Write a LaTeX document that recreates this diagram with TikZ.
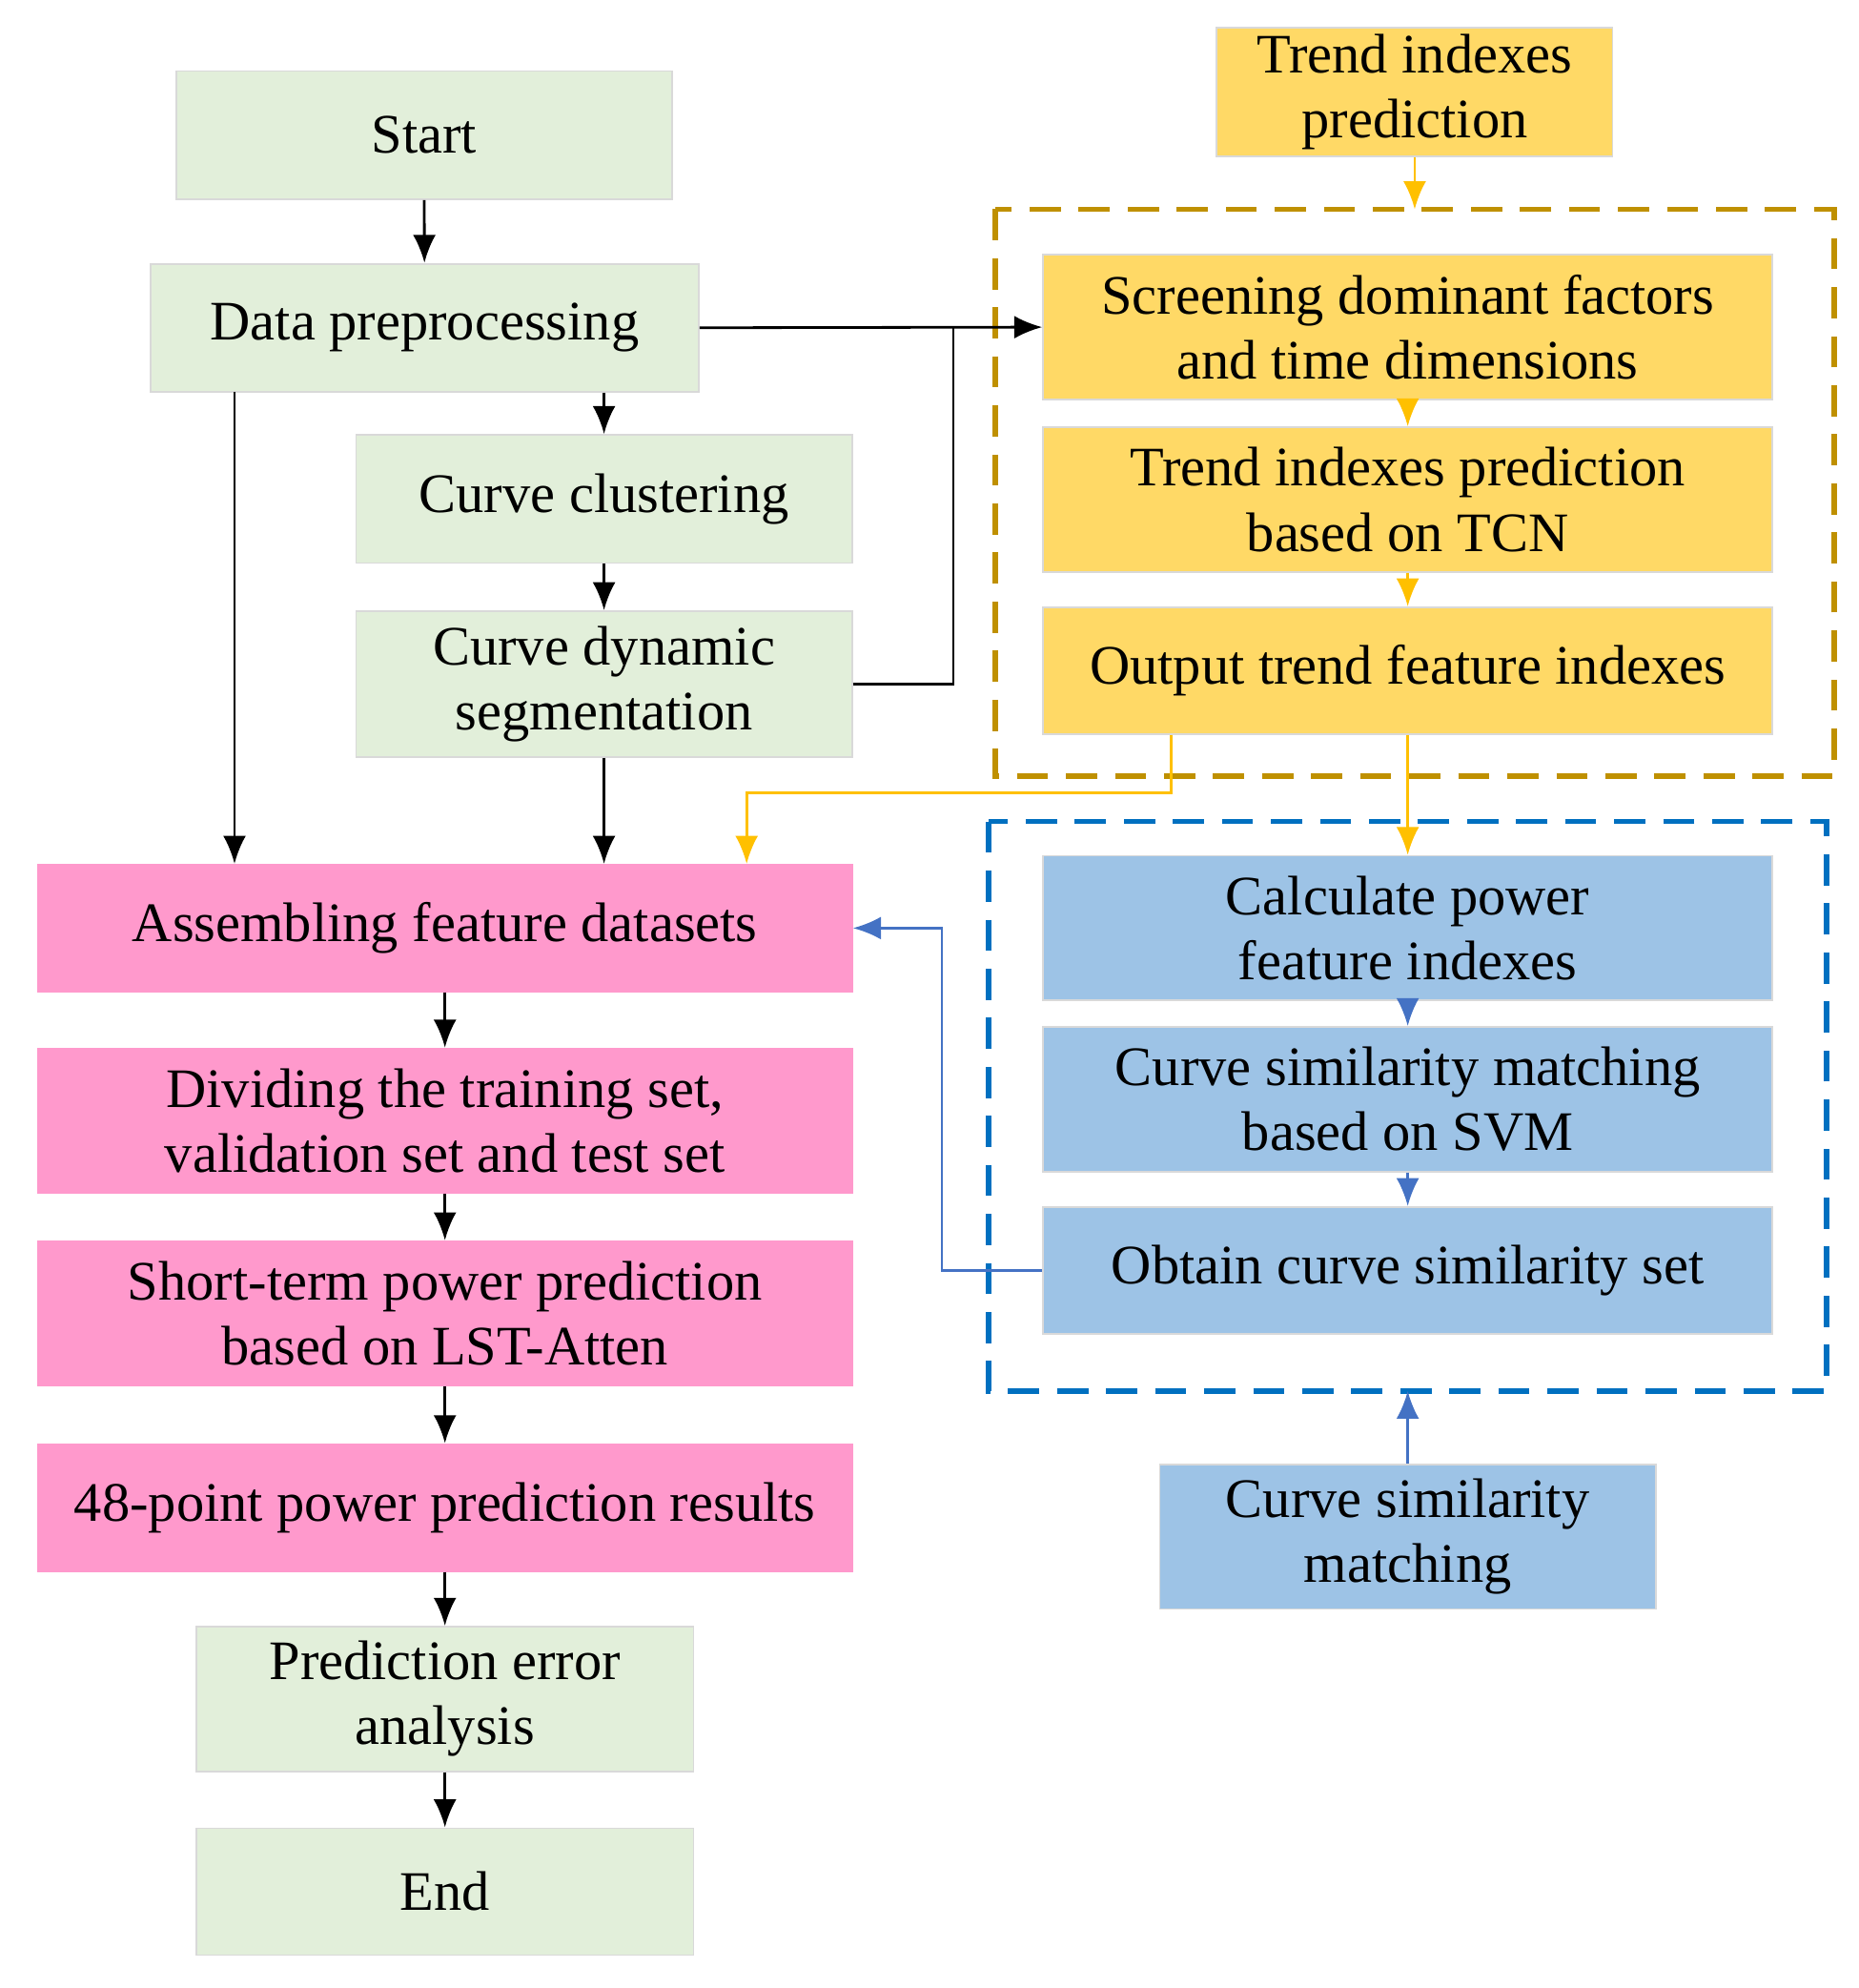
\documentclass[tikz,border=0pt]{standalone}
\usepackage{fontspec}
\setmainfont{Liberation Serif}
\usetikzlibrary{arrows.meta,calc,positioning}
\definecolor{grn}{HTML}{E2EFDA}
\definecolor{pnk}{HTML}{FF99CC}
\definecolor{org}{HTML}{FFD966}
\definecolor{blu}{HTML}{9DC3E6}
\definecolor{orgdash}{HTML}{BF9000}
\definecolor{bludash}{HTML}{0070C0}
\definecolor{orgarr}{HTML}{FFC000}
\definecolor{bluarr}{HTML}{4472C4}
\tikzset{
  box/.style={draw=black!15, align=center, inner sep=0pt, font=\fontsize{12.5}{14.6}\selectfont},
  gbox/.style={box, fill=grn},
  pbox/.style={box, fill=pnk, draw=pnk},
  obox/.style={box, fill=org, draw=black!15},
  bbox/.style={box, fill=blu, draw=black!15},
  arr/.style={-{Latex[length=2.2mm,width=1.8mm]}, line width=0.6pt},
  oarr/.style={arr, draw=orgarr},
  barr/.style={arr, draw=bluarr},
}
\begin{document}
\begin{tikzpicture}[x=0.01cm,y=-0.01cm]
  \useasboundingbox (0,0) rectangle (1466,1568);
  % left column
  \node[gbox, minimum width=3.91cm, minimum height=1.01cm] (start) at (334.5,106.5) {Start};
  \node[gbox, minimum width=4.32cm, minimum height=1.01cm] (prep) at (335,258.5) {Data preprocessing};
  \node[gbox, minimum width=3.91cm, minimum height=1.01cm] (clus) at (476.5,393.5) {Curve clustering};
  \node[gbox, minimum width=3.91cm, minimum height=1.15cm] (seg) at (476.5,539.5) {Curve dynamic\\segmentation};
  \node[pbox, minimum width=6.42cm, minimum height=1.00cm] (asm) at (351,732) {Assembling feature datasets};
  \node[pbox, minimum width=6.42cm, minimum height=1.14cm] (div) at (351,884) {Dividing the training set,\\validation set and test set};
  \node[pbox, minimum width=6.42cm, minimum height=1.14cm] (stp) at (351,1036) {Short-term power prediction\\based on LST-Atten};
  \node[pbox, minimum width=6.42cm, minimum height=1.00cm] (res) at (351,1189) {48-point power prediction results};
  \node[gbox, minimum width=3.92cm, minimum height=1.14cm] (err) at (351,1340) {Prediction error\\analysis};
  \node[gbox, minimum width=3.92cm, minimum height=1.00cm] (end) at (351,1492) {End};
  % trend part
  \node[obox, minimum width=3.12cm, minimum height=1.01cm] (trend) at (1116,72.5) {Trend indexes\\prediction};
  \draw[orgdash, dashed, line width=1.2pt, dash pattern=on 7pt off 4pt] (785,165) rectangle (1447,612);
  \node[obox, minimum width=5.75cm, minimum height=1.14cm] (scr) at (1110.5,258) {Screening dominant factors\\and time dimensions};
  \node[obox, minimum width=5.75cm, minimum height=1.14cm] (tcn) at (1110.5,394) {Trend indexes prediction\\based on TCN};
  \node[obox, minimum width=5.75cm, minimum height=1.00cm] (out) at (1110.5,529) {Output trend feature indexes};
  % similarity part
  \draw[bludash, dashed, line width=1.2pt, dash pattern=on 7pt off 4pt] (780,648) rectangle (1441,1097);
  \node[bbox, minimum width=5.75cm, minimum height=1.14cm] (calc) at (1110.5,732) {Calculate power\\feature indexes};
  \node[bbox, minimum width=5.75cm, minimum height=1.14cm] (svm) at (1110.5,867) {Curve similarity matching\\based on SVM};
  \node[bbox, minimum width=5.75cm, minimum height=1.00cm] (obt) at (1110.5,1002) {Obtain curve similarity set};
  \node[bbox, minimum width=3.91cm, minimum height=1.14cm] (csm) at (1110.5,1212) {Curve similarity\\matching};
  \coordinate (otop) at (1116,165);
  \coordinate (bbot) at (1110.5,1097);
  % black connectors
  \draw[arr] (start) -- (prep);
  \draw[arr] (prep.east) -- (scr.west);
  \draw[line width=0.6pt] (seg.east) -| (752,258.5);
  \draw[arr] (prep.south -| clus) -- (clus);
  \draw[arr] (clus) -- (seg);
  \draw[arr] (seg) -- (asm.north -| seg);
  \draw[arr] (185,309) -- (asm.north -| 185,0);
  \draw[arr] (asm) -- (div);
  \draw[arr] (div) -- (stp);
  \draw[arr] (stp) -- (res);
  \draw[arr] (res) -- (err);
  \draw[arr] (err) -- (end);
  % orange connectors
  \draw[oarr] (trend) -- (otop);
  \draw[oarr] (scr) -- (tcn);
  \draw[oarr] (tcn) -- (out);
  \draw[oarr] (out.south -| 924,0) |- (589,625) -- (asm.north -| 589,0);
  \draw[oarr] (out) -- (calc);
  % blue connectors
  \draw[barr] (calc) -- (svm);
  \draw[barr] (svm) -- (obt);
  \draw[barr] (obt.west) -| (743,732) -- (asm.east);
  \draw[barr] (csm) -- (bbot);
\end{tikzpicture}
\end{document}
